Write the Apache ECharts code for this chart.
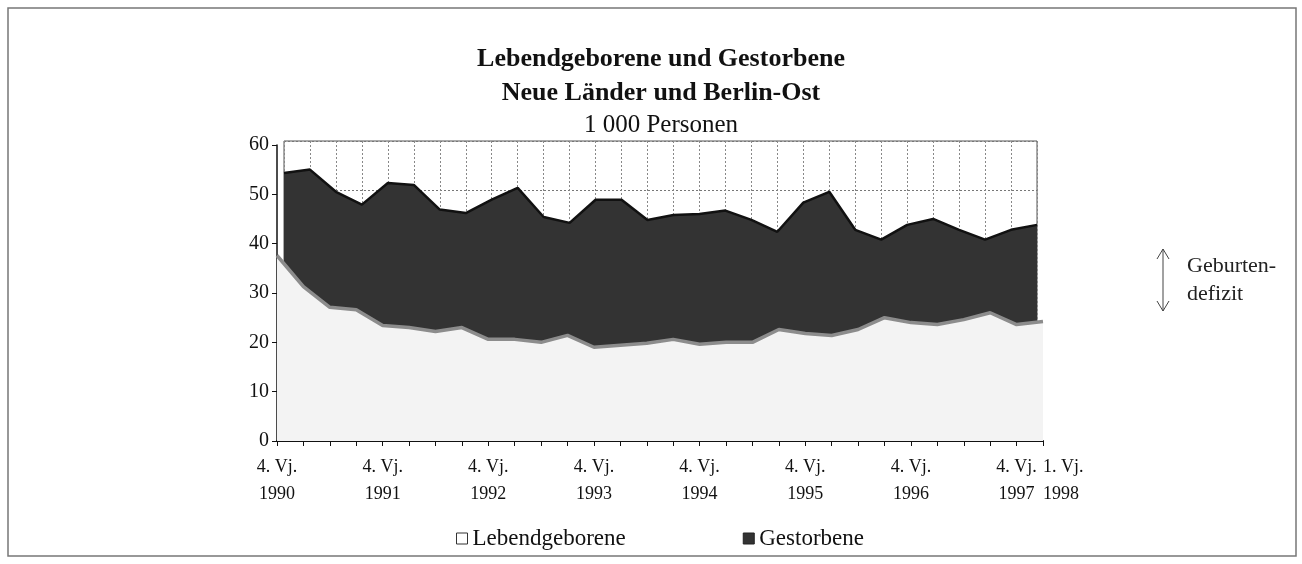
<!DOCTYPE html>
<html>
<head>
<meta charset="utf-8">
<script src="https://cdn.jsdelivr.net/npm/echarts@6/dist/echarts.min.js"></script>
<style>
  html, body { margin: 0; padding: 0; background: #fff; }
  #chart { width: 1302px; height: 564px; }
</style>
</head>
<body>
<div id="chart"></div>
<script>
const quarters = [
  '4. Vj. 1990',
  '1. Vj. 1991', '2. Vj. 1991', '3. Vj. 1991', '4. Vj. 1991',
  '1. Vj. 1992', '2. Vj. 1992', '3. Vj. 1992', '4. Vj. 1992',
  '1. Vj. 1993', '2. Vj. 1993', '3. Vj. 1993', '4. Vj. 1993',
  '1. Vj. 1994', '2. Vj. 1994', '3. Vj. 1994', '4. Vj. 1994',
  '1. Vj. 1995', '2. Vj. 1995', '3. Vj. 1995', '4. Vj. 1995',
  '1. Vj. 1996', '2. Vj. 1996', '3. Vj. 1996', '4. Vj. 1996',
  '1. Vj. 1997', '2. Vj. 1997', '3. Vj. 1997', '4. Vj. 1997',
  '1. Vj. 1998'
];

// 1 000 Personen
const lebendgeborene = [
  37.6, 31.3, 27.1, 26.6, 23.4, 23.0, 22.2, 23.0, 20.6, 20.6,
  20.0, 21.4, 19.0, 19.4, 19.8, 20.6, 19.6, 20.0, 20.0, 22.6,
  21.8, 21.4, 22.6, 25.0, 24.0, 23.6, 24.6, 26.0, 23.6, 24.2
];
const gestorbene = [
  53.5, 54.2, 49.7, 47.1, 51.5, 51.1, 46.1, 45.4, 48.1, 50.5,
  44.6, 43.4, 48.1, 48.1, 44.0, 45.0, 45.2, 45.9, 44.0, 41.6,
  47.5, 49.7, 42.0, 40.0, 43.0, 44.2, 42.0, 40.0, 42.0, 43.0
];

const serif = '"Liberation Serif", "DejaVu Serif", serif';
const chart = echarts.init(document.getElementById('chart'));

chart.setOption({
  backgroundColor: '#fff',
  animation: false,
  textStyle: { fontFamily: serif, color: '#111' },
  title: [
    { text: 'Lebendgeborene und Gestorbene', left: 656, top: 41, textAlign: 'center',
      textStyle: { fontFamily: serif, fontSize: 26, fontWeight: 'bold', color: '#111' } },
    { text: 'Neue Länder und Berlin-Ost', left: 656, top: 75, textAlign: 'center',
      textStyle: { fontFamily: serif, fontSize: 26, fontWeight: 'bold', color: '#111' } },
    { text: '1 000 Personen', left: 656, top: 108, textAlign: 'center',
      textStyle: { fontFamily: serif, fontSize: 25, fontWeight: 'normal', color: '#111' } }
  ],
  legend: {
    left: 451, top: 522,
    icon: 'rect', itemWidth: 11, itemHeight: 11, itemGap: 117,
    textStyle: { fontFamily: serif, fontSize: 23, color: '#111' },
    data: [
      { name: 'Lebendgeborene', itemStyle: { color: '#fff', borderColor: '#333', borderWidth: 1 } },
      { name: 'Gestorbene', itemStyle: { color: '#333', borderColor: '#222', borderWidth: 1 } }
    ]
  },
  grid: [
    // back wall (Gestorbene)
    { left: 284, top: 141, width: 753, height: 296, show: true,
      borderColor: '#555', borderWidth: 1, backgroundColor: 'transparent' },
    // front (Lebendgeborene, axes)
    { left: 277, top: 145, width: 766, height: 296 }
  ],
  xAxis: [
    { gridIndex: 0, type: 'category', data: quarters, boundaryGap: false,
      axisLine: { show: false }, axisTick: { show: false }, axisLabel: { show: false },
      splitLine: { show: true, interval: 0, lineStyle: { color: '#888', type: [2, 2], width: 1 } } },
    { gridIndex: 1, type: 'category', data: quarters, boundaryGap: false,
      axisLine: { show: true, lineStyle: { color: '#111', width: 2 } },
      axisTick: { show: true, interval: 0, length: 5, lineStyle: { color: '#111' } },
      axisLabel: {
        interval: (i) => i % 4 === 0 || i === quarters.length - 1,
        showMaxLabel: true, alignMaxLabel: 'left',
        margin: 13, fontFamily: serif, fontSize: 18, lineHeight: 27, color: '#111',
        formatter: (v) => v.replace(/ (\d{4})$/, '\n$1')
      },
      splitLine: { show: false } }
  ],
  yAxis: [
    { gridIndex: 0, type: 'value', min: 0, max: 60, interval: 10,
      axisLine: { show: false }, axisTick: { show: false }, axisLabel: { show: false },
      splitLine: { show: true, lineStyle: { color: '#777', type: [2, 2], width: 1 } } },
    { gridIndex: 1, type: 'value', min: 0, max: 60, interval: 10,
      axisLine: { show: true, lineStyle: { color: '#111', width: 1.5 } },
      axisTick: { show: true, length: 5, lineStyle: { color: '#111' } },
      axisLabel: { margin: 8, fontFamily: serif, fontSize: 20, color: '#111' },
      splitLine: { show: false } }
  ],
  series: [
    { name: 'Gestorbene', type: 'line', xAxisIndex: 0, yAxisIndex: 0,
      data: gestorbene, symbol: 'none', z: 2,
      lineStyle: { color: '#111', width: 2.5 },
      areaStyle: { color: '#333', opacity: 1 } },
    { name: 'Lebendgeborene', type: 'line', xAxisIndex: 1, yAxisIndex: 1,
      data: lebendgeborene, symbol: 'none', z: 3,
      lineStyle: { color: '#8c8c8c', width: 3.5 },
      areaStyle: { color: '#f3f3f3', opacity: 1 } }
  ],
  graphic: [
    { type: 'rect', shape: { x: 8, y: 8, width: 1288, height: 548 }, silent: true,
      style: { fill: 'none', stroke: '#777', lineWidth: 1.5 } },
    { type: 'line', shape: { x1: 1163, y1: 249, x2: 1163, y2: 311 },
      style: { stroke: '#444', lineWidth: 1 } },
    { type: 'polyline', shape: { points: [[1157, 259], [1163, 249], [1169, 259]] },
      style: { stroke: '#444', lineWidth: 1, fill: 'none' } },
    { type: 'polyline', shape: { points: [[1157, 301], [1163, 311], [1169, 301]] },
      style: { stroke: '#444', lineWidth: 1, fill: 'none' } },
    { type: 'text', left: 1187, top: 255,
      style: { text: 'Geburten-', font: '22px ' + serif, fill: '#222' } },
    { type: 'text', left: 1187, top: 283,
      style: { text: 'defizit', font: '22px ' + serif, fill: '#222' } }
  ]
});
</script>
</body>
</html>
